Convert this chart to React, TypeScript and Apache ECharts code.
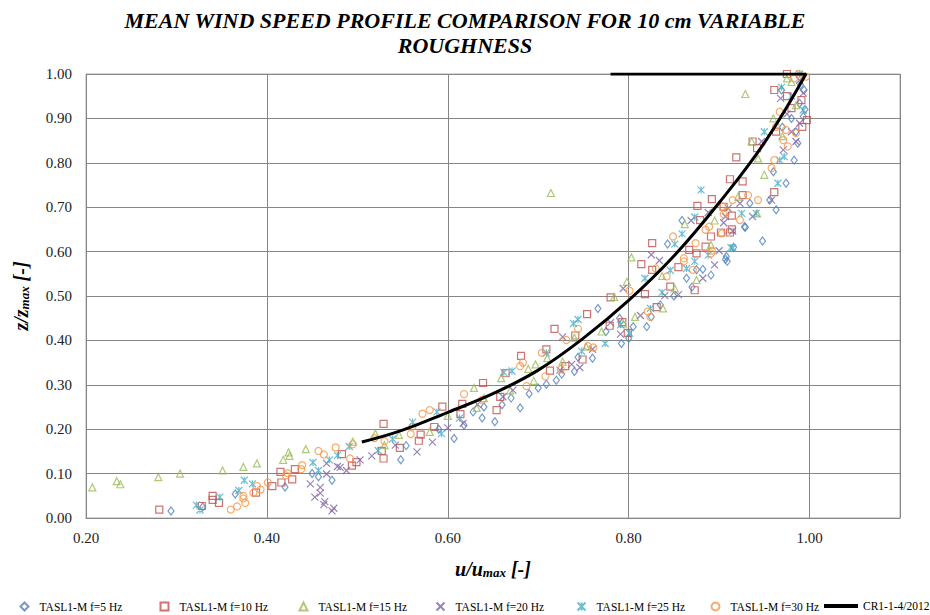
import React, { useEffect, useRef } from "react";
import * as echarts from "echarts";

const titleText = "MEAN WIND SPEED PROFILE COMPARISON FOR 10 cm VARIABLE\nROUGHNESS";
const seriesNames = [
  "TASL1-M f=5 Hz",
  "TASL1-M f=10 Hz",
  "TASL1-M f=15 Hz",
  "TASL1-M f=20 Hz",
  "TASL1-M f=25 Hz",
  "TASL1-M f=30 Hz",
  "CR1-1-4/2012",
];
const xTicks = [0.2, 0.4, 0.6, 0.8, 1.0];
const yTicks = [0, 0.1, 0.2, 0.3, 0.4, 0.5, 0.6, 0.7, 0.8, 0.9, 1.0];

const f5 = [
  [0.294,0.016],[0.329,0.025],[0.365,0.054],[0.42,0.07],[0.45,0.10],[0.457,0.093],[0.472,0.085],
  [0.548,0.131],[0.554,0.163],[0.59,0.2],[0.607,0.179],[0.618,0.209],[0.628,0.239],[0.638,0.225],
  [0.64,0.25],[0.652,0.217],[0.66,0.255],[0.67,0.27],[0.68,0.248],[0.69,0.28],[0.70,0.293],
  [0.709,0.301],[0.72,0.31],[0.726,0.324],[0.74,0.33],[0.744,0.362],[0.76,0.36],[0.766,0.472],
  [0.775,0.42],[0.79,0.45],[0.792,0.393],[0.8,0.405],[0.805,0.431],[0.82,0.431],[0.825,0.453],
  [0.835,0.48],[0.843,0.617],[0.85,0.5],[0.859,0.67],[0.864,0.54],[0.87,0.52],[0.875,0.559],
  [0.882,0.56],[0.891,0.547],[0.907,0.583],[0.909,0.578],[0.908,0.589],[0.916,0.61],[0.928,0.656],
  [0.929,0.655],[0.934,0.709],[0.948,0.624],[0.956,0.716],[0.96,0.78],[0.963,0.694],[0.969,0.964],
  [0.97,0.88],[0.974,0.754],[0.98,0.9],[0.983,0.806],[0.985,0.87],[0.987,0.844],[0.989,0.934],
  [0.99,0.975],[0.993,0.904],[0.994,0.964],[0.995,0.92],
];
const f10 = [
  [0.281,0.019],[0.328,0.027],[0.34,0.05],[0.34,0.041],[0.347,0.034],[0.388,0.057],[0.406,0.072],
  [0.415,0.104],[0.416,0.08],[0.428,0.087],[0.431,0.11],[0.483,0.144],[0.494,0.118],[0.499,0.126],
  [0.527,0.151],[0.529,0.134],[0.529,0.212],[0.547,0.158],[0.568,0.174],[0.57,0.188],[0.585,0.205],
  [0.594,0.251],[0.614,0.234],[0.616,0.257],[0.639,0.304],[0.654,0.243],[0.658,0.273],[0.664,0.326],
  [0.681,0.365],[0.709,0.38],[0.713,0.332],[0.718,0.426],[0.73,0.342],[0.741,0.411],[0.749,0.357],
  [0.754,0.459],[0.779,0.433],[0.78,0.497],[0.793,0.441],[0.799,0.417],[0.814,0.572],[0.818,0.504],
  [0.826,0.559],[0.826,0.619],[0.831,0.475],[0.846,0.521],[0.855,0.565],[0.867,0.604],[0.873,0.513],
  [0.875,0.596],[0.876,0.703],[0.879,0.671],[0.885,0.611],[0.891,0.634],[0.892,0.718],[0.902,0.643],
  [0.905,0.701],[0.912,0.643],[0.912,0.763],[0.914,0.65],[0.914,0.681],[0.919,0.812],[0.926,0.727],
  [0.926,0.758],[0.937,0.848],[0.942,0.833],[0.961,0.734],[0.961,0.964],[0.963,0.87],[0.975,0.95],
  [0.975,1.0],[0.98,0.923],[0.991,0.941],[0.992,0.881],[0.997,0.896],
];
const f15 = [
  [0.207,0.069],[0.234,0.083],[0.238,0.076],[0.28,0.092],[0.304,0.10],[0.351,0.107],[0.374,0.115],
  [0.389,0.123],[0.418,0.131],[0.424,0.148],[0.425,0.14],[0.443,0.155],[0.495,0.172],[0.52,0.19],
  [0.53,0.164],[0.546,0.187],[0.58,0.194],[0.6,0.23],[0.629,0.293],[0.632,0.248],[0.64,0.27],
  [0.659,0.315],[0.669,0.287],[0.689,0.336],[0.695,0.309],[0.697,0.346],[0.71,0.36],[0.714,0.732],
  [0.727,0.352],[0.74,0.406],[0.753,0.386],[0.77,0.42],[0.784,0.498],[0.794,0.438],[0.798,0.532],
  [0.803,0.587],[0.807,0.453],[0.837,0.545],[0.838,0.472],[0.851,0.517],[0.862,0.662],[0.875,0.536],
  [0.891,0.615],[0.895,0.67],[0.921,0.724],[0.929,0.955],[0.936,0.848],[0.942,0.686],[0.943,0.81],
  [0.95,0.773],[0.96,0.9],[0.97,0.86],[0.975,0.99],[0.98,0.982],[0.985,0.93],
];
const f20 = [
  [0.448,0.077],[0.453,0.047],[0.459,0.069],[0.459,0.056],[0.463,0.03],[0.464,0.037],[0.466,0.099],
  [0.466,0.123],[0.472,0.016],[0.474,0.022],[0.478,0.116],[0.481,0.114],[0.488,0.107],[0.503,0.131],
  [0.516,0.14],[0.542,0.164],[0.566,0.149],[0.583,0.171],[0.60,0.203],[0.617,0.213],[0.633,0.256],
  [0.661,0.273],[0.672,0.288],[0.724,0.333],[0.727,0.408],[0.737,0.346],[0.746,0.339],[0.76,0.38],
  [0.78,0.44],[0.791,0.414],[0.794,0.517],[0.813,0.456],[0.825,0.593],[0.834,0.58],[0.84,0.501],
  [0.855,0.503],[0.869,0.67],[0.882,0.54],[0.888,0.688],[0.895,0.57],[0.90,0.602],[0.905,0.665],
  [0.907,0.679],[0.91,0.698],[0.915,0.646],[0.923,0.709],[0.937,0.679],[0.947,0.848],[0.958,0.716],
  [0.968,0.945],[0.971,0.829],[0.975,0.91],[0.98,0.87],[0.985,0.848],[0.989,0.889],[0.989,0.986],
  [0.993,0.957],
];
const f25 = [
  [0.322,0.029],[0.326,0.018],[0.348,0.047],[0.369,0.062],[0.375,0.085],[0.384,0.077],[0.451,0.125],
  [0.457,0.107],[0.469,0.131],[0.478,0.141],[0.491,0.161],[0.523,0.152],[0.539,0.178],[0.561,0.216],
  [0.588,0.239],[0.593,0.19],[0.613,0.225],[0.662,0.328],[0.671,0.331],[0.709,0.372],[0.739,0.438],
  [0.744,0.447],[0.748,0.376],[0.774,0.393],[0.791,0.435],[0.801,0.416],[0.818,0.54],[0.824,0.472],
  [0.837,0.508],[0.846,0.558],[0.851,0.617],[0.859,0.64],[0.864,0.562],[0.873,0.578],[0.873,0.678],
  [0.88,0.739],[0.888,0.592],[0.913,0.609],[0.915,0.608],[0.925,0.686],[0.941,0.686],[0.95,0.87],
  [0.965,0.754],[0.967,0.806],[0.969,0.97],[0.972,0.814],[0.98,0.95],[0.989,1.0],[0.993,0.919],
];
const f30 = [
  [0.36,0.019],[0.367,0.026],[0.374,0.044],[0.374,0.05],[0.376,0.034],[0.385,0.057],[0.389,0.072],
  [0.393,0.064],[0.401,0.08],[0.421,0.096],[0.423,0.101],[0.438,0.11],[0.439,0.119],[0.457,0.151],
  [0.463,0.143],[0.476,0.159],[0.492,0.134],[0.495,0.166],[0.519,0.18],[0.53,0.173],[0.559,0.189],
  [0.561,0.206],[0.572,0.235],[0.58,0.243],[0.618,0.279],[0.638,0.266],[0.68,0.342],[0.683,0.35],
  [0.687,0.297],[0.704,0.372],[0.708,0.319],[0.725,0.335],[0.731,0.401],[0.744,0.426],[0.755,0.387],
  [0.761,0.384],[0.801,0.512],[0.821,0.465],[0.824,0.453],[0.83,0.562],[0.842,0.544],[0.849,0.634],
  [0.861,0.585],[0.861,0.578],[0.871,0.559],[0.874,0.619],[0.885,0.649],[0.889,0.656],[0.891,0.596],
  [0.892,0.602],[0.903,0.641],[0.904,0.701],[0.905,0.684],[0.908,0.69],[0.915,0.716],[0.923,0.671],
  [0.932,0.727],[0.943,0.716],[0.958,0.788],[0.961,0.806],[0.963,0.881],[0.967,0.915],[0.971,0.851],
  [0.974,0.874],[0.976,0.837],[0.983,0.99],[0.985,0.867],[0.988,1.0],[0.996,0.994],
];
const cr1 = [
  [0.505,0.171],[0.55,0.198],[0.60,0.238],[0.65,0.28],[0.70,0.333],[0.75,0.405],[0.80,0.49],
  [0.85,0.59],[0.90,0.71],[0.95,0.845],[0.996,1.0],[0.78,1.0],
];

const colors = ["#4F81BD", "#C0504D", "#9BBB59", "#8064A2", "#4BACC6", "#F79646"];
const symbols = [
  "diamond",
  "rect",
  "triangle",
  "path://M0,0L10,10M10,0L0,10",
  "path://M0,0L10,10M10,0L0,10M5,0L5,10",
  "circle",
];
const sizes = [[6, 8], 7, 7, 7, 7, 7];
const scatterData = [f5, f10, f15, f20, f25, f30];
const legendLefts = [13, 153, 292, 429, 570, 704];

const serif = "'Liberation Serif', 'Times New Roman', serif";

export default function App() {
  const ref = useRef<HTMLDivElement>(null);
  useEffect(() => {
    if (!ref.current) return;
    const chart = echarts.init(ref.current, undefined, { renderer: "svg" });
    const nameRich = {
      i: { fontFamily: serif, fontStyle: "italic", fontWeight: "bold", fontSize: 20, color: "#000" },
      s: { fontFamily: serif, fontStyle: "italic", fontWeight: "bold", fontSize: 13, color: "#000", padding: [8, 0, 0, 0] },
    };
    const series: any[] = scatterData.map((d, i) => ({
      name: seriesNames[i],
      type: "scatter",
      data: d,
      symbol: symbols[i],
      symbolSize: sizes[i],
      itemStyle: { color: "none", borderColor: colors[i], borderWidth: 1.2 },
      emphasis: { disabled: true },
    }));
    series.push({
      name: seriesNames[6],
      type: "line",
      data: cr1,
      smooth: 0.4,
      showSymbol: false,
      symbol: "none",
      lineStyle: { color: "#000", width: 3 },
      itemStyle: { color: "#000" },
      z: 5,
    });
    const legends: any[] = seriesNames.slice(0, 6).map((n, i) => ({
      data: [n],
      left: legendLefts[i],
      top: 595,
      itemWidth: 8,
      itemHeight: 8,
      itemGap: 0,
      selectedMode: false,
      textStyle: { fontFamily: serif, fontSize: 11.5, color: "#000", padding: [0, 0, 0, 6] },
    }));
    legends.push({
      data: [{ name: seriesNames[6], icon: "rect" }],
      left: 819,
      top: 595,
      itemWidth: 34,
      itemHeight: 4,
      selectedMode: false,
      itemStyle: { color: "#000" },
      textStyle: { fontFamily: serif, fontSize: 11.5, color: "#000", padding: [0, 0, 0, 0] },
    });
    chart.setOption({
      animation: false,
      backgroundColor: "#fff",
      title: {
        text: titleText,
        left: "center",
        top: 3,
        textStyle: { fontFamily: serif, fontStyle: "italic", fontWeight: "bold", fontSize: 22, lineHeight: 25, color: "#000" },
      },
      legend: legends,
      grid: { left: 86, right: 30, top: 74, bottom: 97, show: true, borderColor: "#b0b0b0", borderWidth: 1 },
      xAxis: {
        type: "value",
        min: xTicks[0],
        max: 1.1,
        interval: 0.2,
        name: "{i|u/u}{s|max}{i| [-]}",
        nameLocation: "middle",
        nameGap: 40,
        nameTextStyle: { rich: nameRich },
        axisLine: { show: true, lineStyle: { color: "#868686" } },
        axisTick: { show: false },
        splitLine: { show: true, lineStyle: { color: "#868686", width: 1 } },
        axisLabel: {
          fontFamily: serif,
          fontSize: 15,
          color: "#222",
          margin: 12,
          formatter: (v: number) => (xTicks.some((t) => Math.abs(t - v) < 1e-6) ? v.toFixed(2) : ""),
        },
      },
      yAxis: {
        type: "value",
        min: yTicks[0],
        max: yTicks[yTicks.length - 1],
        interval: 0.1,
        name: "{i|z/z}{s|max}{i| [-]}",
        nameLocation: "middle",
        nameGap: 55,
        nameTextStyle: { rich: nameRich },
        axisLine: { show: true, lineStyle: { color: "#868686" } },
        axisTick: { show: false },
        splitLine: { show: true, lineStyle: { color: "#868686", width: 1 } },
        axisLabel: {
          fontFamily: serif,
          fontSize: 15,
          color: "#222",
          margin: 14,
          formatter: (v: number) => v.toFixed(2),
        },
      },
      series,
    });
    return () => chart.dispose();
  }, []);
  return <div ref={ref} style={{ position: "fixed", left: 0, top: 0, width: 930, height: 615 }} />;
}
